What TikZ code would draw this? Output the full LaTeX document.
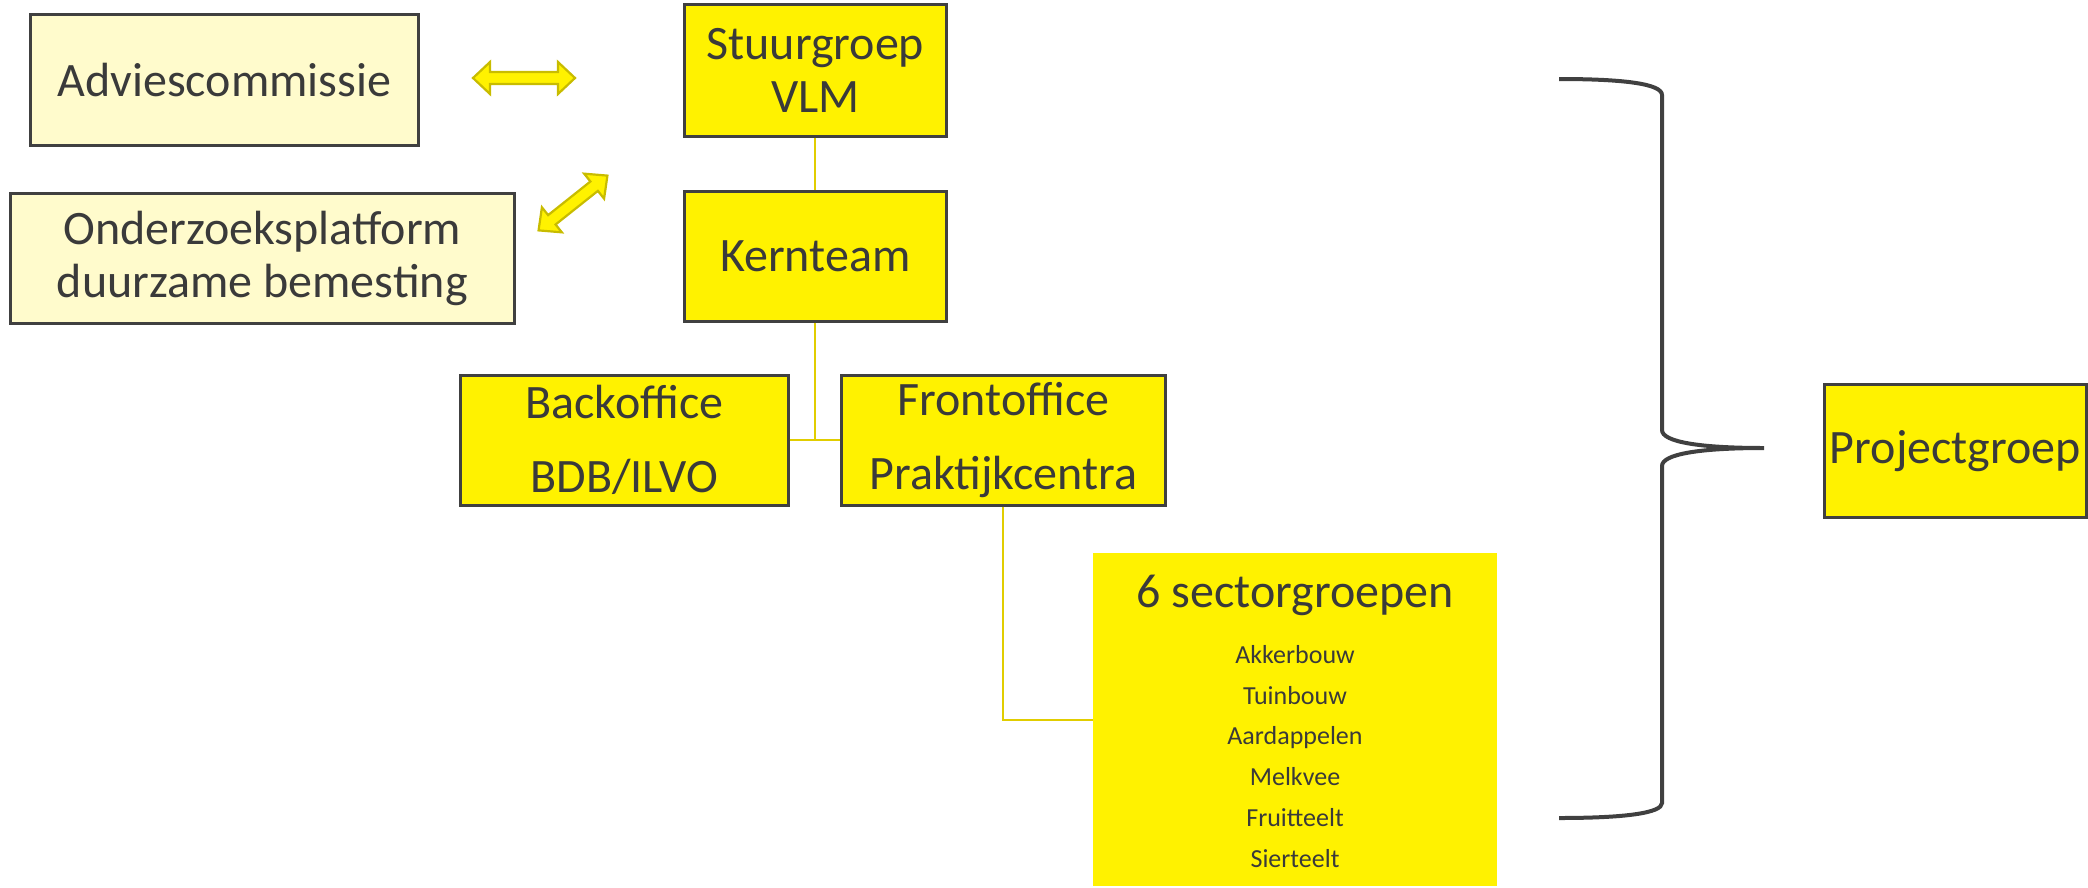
\documentclass[tikz,border=0pt]{standalone}
\usepackage{fontspec}
\setmainfont{Carlito}
\definecolor{yel}{RGB}{255,242,0}
\definecolor{lightyel}{RGB}{255,251,204}
\definecolor{boxline}{RGB}{64,64,64}
\definecolor{txt}{RGB}{58,58,58}
\definecolor{connline}{RGB}{225,205,0}
\definecolor{arrline}{RGB}{200,188,0}
\tikzset{
  orgbox/.style={draw=boxline, line width=2.6pt, fill=yel, text=txt, inner sep=0pt,
    align=center, anchor=north west, font=\fontsize{48}{53}\selectfont},
  lightbox/.style={orgbox, fill=lightyel},
  widebox/.style={orgbox, font=\fontsize{48}{74}\selectfont},
  conn/.style={draw=connline, line width=2.2pt},
  dblarr/.style={fill=yel, draw=arrline, line width=2.2pt, line join=miter},
  bracepath/.style={draw=boxline, line width=4pt},
  itemtxt/.style={text=txt, font=\fontsize{26}{30}\selectfont, anchor=base, inner sep=0pt},
  titletxt/.style={text=txt, font=\fontsize{48}{53}\selectfont, anchor=base, inner sep=0pt}
}
\newcommand{\mydoublearrow}[4]{%
  \begin{scope}[shift={(#1,#2)}, rotate=#3]
    \path[dblarr] (-#4/2,0) -- (-#4/2+17,-16) -- (-#4/2+17,-6) -- (#4/2-17,-6) -- (#4/2-17,-16)
      -- (#4/2,0) -- (#4/2-17,16) -- (#4/2-17,6) -- (-#4/2+17,6) -- (-#4/2+17,16) -- cycle;
  \end{scope}}
\begin{document}
\begin{tikzpicture}[x=1pt,y=-1pt]
\useasboundingbox (0,0) rectangle (2088,887);

% boxes
\node[lightbox, minimum width=388pt, minimum height=131pt] (advies) at (29,13) {Adviescommissie};
\node[lightbox, minimum width=504pt, minimum height=130pt] (onderzoek) at (9,192) {Onderzoeksplatform\\duurzame bemesting};
\node[orgbox, minimum width=262pt, minimum height=132pt] (stuur) at (683,3) {Stuurgroep\\VLM};
\node[orgbox, minimum width=262pt, minimum height=130pt] (kern) at (683,190) {Kernteam};
\node[widebox, minimum width=328pt, minimum height=130pt] (back) at (459,374) {Backoffice\\BDB/ILVO};
\node[widebox, minimum width=324pt, minimum height=130pt] (front) at (840,374) {Frontoffice\\Praktijkcentra};
\node[fill=yel, draw=none, inner sep=0pt, anchor=north west, minimum width=404pt, minimum height=333pt] (sect) at (1093,553) {};
\node[orgbox, minimum width=262pt, minimum height=133pt] (proj) at (1823,383) {Projectgroep};

% sector texts
\node[titletxt] (secttitle) at (1295,607) {6 sectorgroepen};
\node[itemtxt] (s1) at (1295,663) {Akkerbouw};
\node[itemtxt] (s2) at (1295,704) {Tuinbouw};
\node[itemtxt] (s3) at (1295,744) {Aardappelen};
\node[itemtxt] (s4) at (1295,785) {Melkvee};
\node[itemtxt] (s5) at (1295,826) {Fruitteelt};
\node[itemtxt] (s6) at (1295,867) {Sierteelt};

% connectors
\draw[conn] (stuur.south) -- (kern.north);
\draw[conn] (kern.south) -- (kern.south |- back.east);
\draw[conn] (back.east) -- (front.west);
\draw[conn] (front.south) |- (sect.west);

% double arrows
\mydoublearrow{524}{78}{0}{102}
\mydoublearrow{573}{203}{38.5}{88}

% brace
\path[bracepath] (1559,79) .. controls (1625,79) and (1662,84) .. (1662,95)
  -- (1662,430) .. controls (1662,442) and (1700,448) .. (1764,448)
  .. controls (1700,448) and (1662,454) .. (1662,466)
  -- (1662,803) .. controls (1662,813) and (1625,818) .. (1559,818);
\end{tikzpicture}
\end{document}
